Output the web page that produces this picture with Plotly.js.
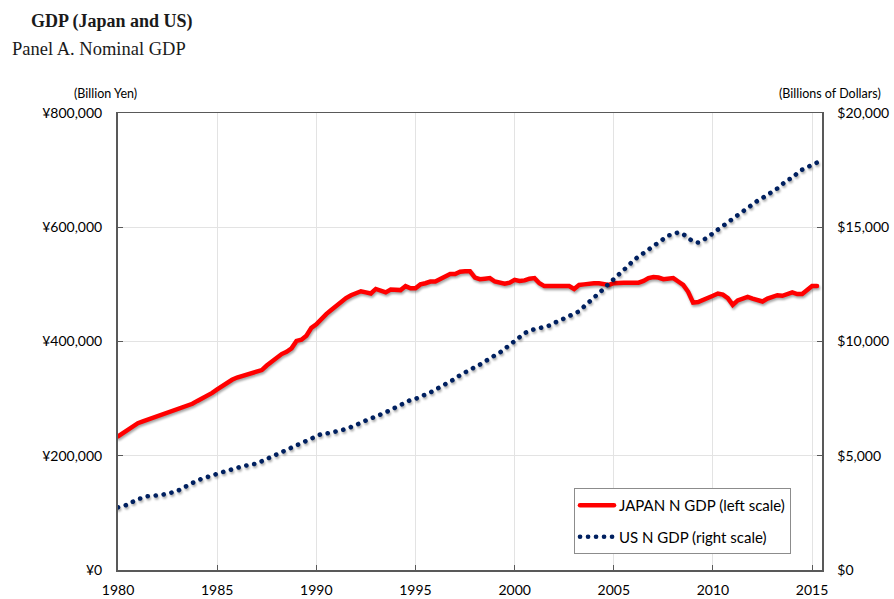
<!DOCTYPE html>
<html>
<head>
<meta charset="utf-8">
<script src="https://cdn.plot.ly/plotly-3.0.1.min.js"></script>
<style>
  html, body { margin: 0; padding: 0; background: #fff; }
  #chart { width: 894px; height: 599px; }
  path.js-line { stroke-linecap: round; }
  .scatterlayer .trace { filter: drop-shadow(1px 2px 1.2px rgba(0,0,0,0.35)); }
</style>
</head>
<body>
<div id="chart"></div>
<script>
// Quarterly data, 1980Q1 .. 2015Q2
const startYear = 1980;
const japanLabel = "JAPAN N GDP (left scale)";
const usLabel = "US N GDP (right scale)";

// Japan nominal GDP, billion yen
const japanGDP = [
  234000, 240000, 246000, 252000,
  257000, 260000, 263000, 265000,
  270000, 273000, 275000, 278000,
  281000, 284000, 287000, 291000,
  296000, 300000, 305000, 310000,
  316000, 322000, 328000, 333000,
  337000, 340000, 343000, 346000,
  347000, 350000, 358000, 365000,
  372000, 378000, 382000, 388000,
  401000, 403000, 410000, 424000,
  430000, 440000, 448000, 455000,
  462000, 470000, 476000, 481000,
  485000, 488000, 486000, 484000,
  492000, 488000, 486000, 491000,
  491000, 490000, 497000, 493000,
  493000, 500000, 502000, 505000,
  505000, 509000, 513000, 518000,
  518000, 522000, 523000, 523000,
  512000, 509000, 510000, 511000,
  505000, 503000, 501000, 503000,
  508000, 506000, 507000, 510000,
  511000, 502000, 497000, 497000,
  497000, 497000, 497000, 497000,
  492000, 499000, 500000, 502000,
  502000, 502000, 501000, 499000,
  502000, 503000, 503000, 503000,
  503000, 503000, 506000, 511000,
  513000, 512000, 509000, 511000,
  511000, 505000, 499000, 487000,
  468000, 469000, 472000, 476000,
  480000, 484000, 482000, 476000,
  464000, 472000, 474000, 478000,
  475000, 472000, 470000, 475000,
  477000, 481000, 480000, 484000,
  486000, 483000, 483000, 490000,
  497000, 497000
];

// US nominal GDP, billions of dollars
const usGDP = [
  2745, 2790, 2860, 2990,
  3110, 3150, 3230, 3245,
  3255, 3300, 3340, 3400,
  3460, 3580, 3700, 3810,
  3920, 4000, 4080, 4140,
  4220, 4280, 4340, 4420,
  4470, 4530, 4580, 4620,
  4660, 4760, 4860, 4980,
  5070, 5160, 5260, 5380,
  5490, 5580, 5660, 5750,
  5860, 5950, 5970, 6000,
  6040, 6110, 6180, 6250,
  6340, 6450, 6550, 6660,
  6730, 6810, 6900, 7010,
  7100, 7230, 7330, 7440,
  7490, 7570, 7680, 7770,
  7890, 8000, 8130, 8260,
  8370, 8530, 8660, 8760,
  8880, 8990, 9130, 9300,
  9390, 9510, 9680, 9890,
  10030, 10230, 10360, 10480,
  10550, 10620, 10640, 10700,
  10830, 10920, 11010, 11100,
  11190, 11320, 11530, 11710,
  11890, 12080, 12310, 12530,
  12720, 12900, 13130, 13330,
  13560, 13720, 13860, 14000,
  14180, 14350, 14540, 14640,
  14680, 14780, 14700, 14520,
  14370, 14330, 14420, 14560,
  14740, 14900, 15070, 15220,
  15330, 15510, 15670, 15860,
  16030, 16160, 16280, 16420,
  16530, 16700, 16880, 17080,
  17140, 17370, 17520, 17620,
  17700, 17830
];

const xTickVals = [1980, 1985, 1990, 1995, 2000, 2005, 2010, 2015];
const leftTickVals = [0, 200000, 400000, 600000, 800000];
const rightTickVals = [0, 5000, 10000, 15000, 20000];

const quartersJ = japanGDP.map((_, i) => startYear + i / 4);
const quartersU = usGDP.map((_, i) => startYear + i / 4);

const tickFont = { family: "Lato, 'Liberation Sans', sans-serif", size: 14, color: "#000" };

const traces = [
  {
    x: quartersJ, y: japanGDP, name: japanLabel, type: "scatter", mode: "lines",
    legendgroup: "jp",
    line: { color: "#ff0000", width: 4.5 }, yaxis: "y"
  },
  {
    x: quartersU, y: usGDP, name: usLabel, type: "scatter", mode: "lines",
    legendgroup: "us",
    line: { color: "#002060", width: 4.6, dash: "0.1px,7.9px" }, yaxis: "y2"
  }
];

const layout = {
  width: 894, height: 599,
  margin: { l: 118, r: 72, t: 113, b: 29, pad: 0 },
  paper_bgcolor: "#fff", plot_bgcolor: "#fff",
  showlegend: true,
  legend: {
    x: (574 - 118) / 704, y: (570 - 554) / 457, xanchor: "left", yanchor: "bottom",
    bgcolor: "#fff", bordercolor: "#8c8c8c", borderwidth: 1,
    font: { family: "Lato, 'Liberation Sans', sans-serif", size: 15, color: "#000" },
    traceorder: "grouped", tracegroupgap: 9,
    itemwidth: 34
  },
  xaxis: {
    range: [1980, 2015.5], tickvals: xTickVals, ticktext: xTickVals.map(String),
    showgrid: true, gridcolor: "#e3e3e3", gridwidth: 1,
    showline: true, linecolor: "#595959", linewidth: 1.5, mirror: true,
    ticks: "inside", ticklen: 5, tickcolor: "#595959",
    ticklabelstandoff: 7,
    tickfont: tickFont, zeroline: false, fixedrange: true
  },
  yaxis: {
    range: [0, 800000], tickvals: leftTickVals,
    ticktext: leftTickVals.map(v => "¥" + v.toLocaleString("en-US")),
    showgrid: true, gridcolor: "#e3e3e3", gridwidth: 1,
    showline: true, linecolor: "#595959", linewidth: 2, mirror: true,
    ticks: "inside", ticklen: 5, tickcolor: "#595959",
    ticklabelstandoff: 11,
    tickfont: tickFont, zeroline: false
  },
  yaxis2: {
    range: [0, 20000], tickvals: rightTickVals,
    ticktext: rightTickVals.map(v => "$" + v.toLocaleString("en-US")),
    overlaying: "y", side: "right", showgrid: false,
    showline: true, linecolor: "#595959", linewidth: 1.5,
    ticks: "inside", ticklen: 5, tickcolor: "#595959",
    ticklabelstandoff: 11,
    tickfont: tickFont, zeroline: false
  },
  annotations: [
    { text: "<b>GDP (Japan and US)</b>", xref: "paper", yref: "paper",
      x: (29 - 118) / 704, y: (570 - 22) / 457, xanchor: "left", yanchor: "middle",
      showarrow: false, font: { family: "'Liberation Serif', serif", size: 18, color: "#1a1a1a" } },
    { text: "Panel A. Nominal GDP", xref: "paper", yref: "paper",
      x: (10 - 118) / 704, y: (570 - 49) / 457, xanchor: "left", yanchor: "middle",
      showarrow: false, font: { family: "'Liberation Serif', serif", size: 18.5, color: "#1a1a1a" } },
    { text: "(Billion Yen)", xref: "paper", yref: "paper",
      x: (105 - 118) / 704, y: (570 - 94) / 457, xanchor: "center", yanchor: "middle",
      showarrow: false, font: { family: "Lato, sans-serif", size: 12.5, color: "#000" } },
    { text: "(Billions of Dollars)", xref: "paper", yref: "paper",
      x: (830 - 118) / 704, y: (570 - 94) / 457, xanchor: "center", yanchor: "middle",
      showarrow: false, font: { family: "Lato, sans-serif", size: 12.5, color: "#000" } }
  ]
};

Plotly.newPlot("chart", traces, layout, { displayModeBar: false, staticPlot: true });
</script>
</body>
</html>
